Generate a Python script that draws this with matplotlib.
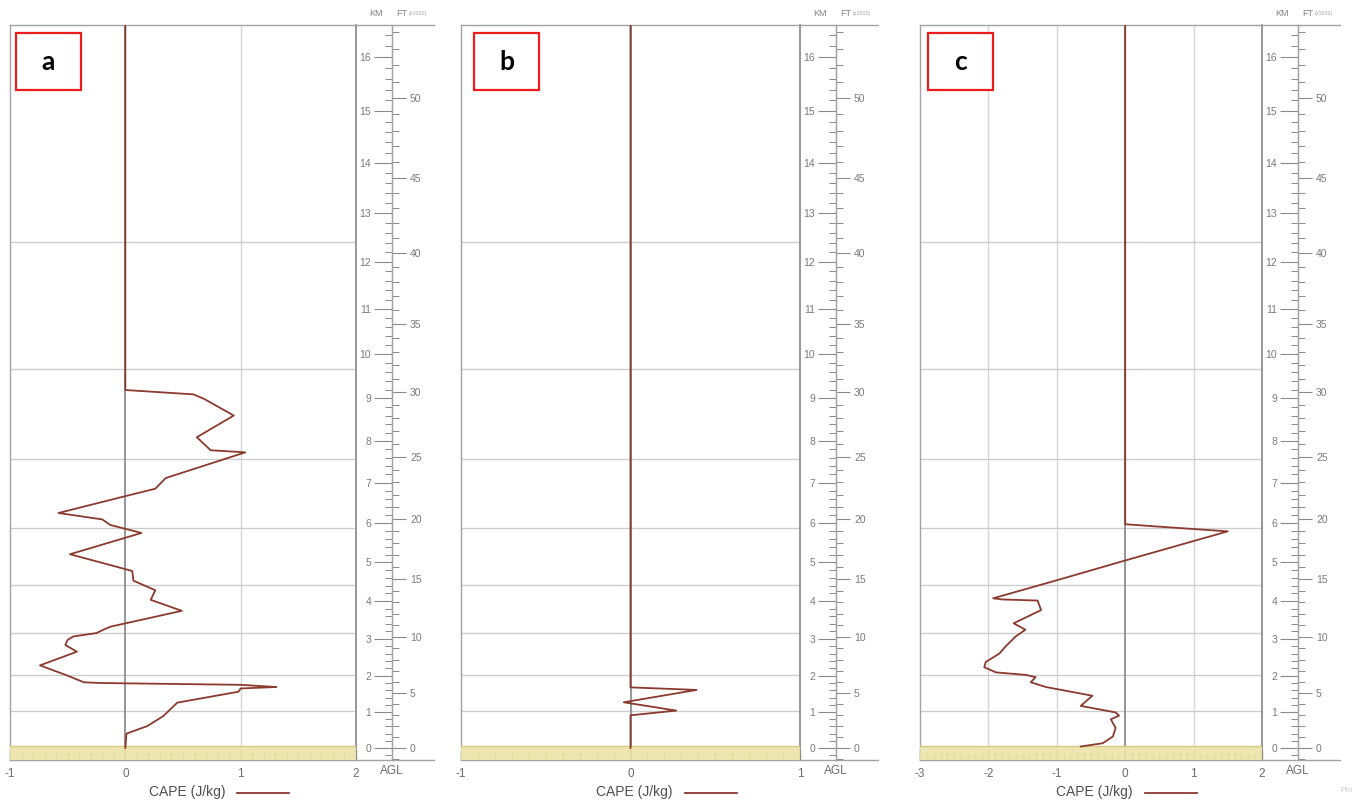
import numpy as np
import matplotlib.pyplot as plt
from matplotlib.patches import Rectangle
from matplotlib.lines import Line2D
from matplotlib.ticker import MultipleLocator, FixedLocator, NullFormatter

plt.rcParams['font.family'] = ['Liberation Sans', 'DejaVu Sans']

# CAPE (J/kg) against height (km AGL) for the three soundings
height_a = [16.58, 9.19, 9.09, 8.99, 8.60, 8.09, 7.78, 7.73, 7.11, 6.85, 6.66,
            6.25, 6.09, 5.95, 5.75, 5.21, 4.78, 4.53, 4.28, 4.03, 3.74, 3.32,
            3.24, 3.15, 3.06, 2.97, 2.83, 2.65, 2.28, 2.00, 1.82, 1.80, 1.75,
            1.69, 1.65, 1.56, 1.26, 0.89, 0.61, 0.40, 0.0]
cape_a = [0, 0, 0.59, 0.68, 0.94, 0.62, 0.74, 1.04, 0.35, 0.26, -0.01,
          -0.58, -0.20, -0.13, 0.14, -0.48, 0.06, 0.07, 0.26, 0.22, 0.49, -0.13,
          -0.19, -0.25, -0.45, -0.50, -0.52, -0.42, -0.74, -0.50, -0.36, -0.22, 1.00,
          1.31, 1.00, 0.98, 0.45, 0.33, 0.19, 0.01, 0.0]

height_b = [16.58, 1.68, 1.61, 1.27, 1.04, 0.91, 0.0]
cape_b = [0, 0, 0.39, -0.04, 0.27, 0.0, 0.0]

height_c = [16.58, 5.97, 5.92, 5.79, 5.59, 5.03, 4.53, 4.07, 4.04, 4.01, 3.76,
            3.41, 3.24, 3.06, 2.79, 2.60, 2.37, 2.23, 2.09, 2.02, 1.96, 1.82,
            1.69, 1.45, 1.17, 0.99, 0.90, 0.80, 0.56, 0.32, 0.13, 0.04]
cape_c = [0, 0, 0.40, 1.50, 1.09, -0.04, -1.02, -1.93, -1.80, -1.28, -1.23,
          -1.63, -1.46, -1.60, -1.75, -1.84, -2.04, -2.06, -1.89, -1.45, -1.31, -1.38,
          -1.16, -0.48, -0.65, -0.14, -0.09, -0.21, -0.14, -0.18, -0.33, -0.65]

# heights of the 900 ... 200 hPa levels (horizontal grid)
level_heights = [1.04, 2.03, 3.15, 4.42, 5.88, 7.57, 9.66, 12.41]

panel_labels = ['a', 'b', 'c']
panel_xlims = [(-1, 2), (-1, 1), (-3, 2)]
km_ticks = list(range(0, 17))
ft_ticks = list(range(0, 55, 5))

W, H = 1359, 807
Z_LO, Z_HI = -0.34, 16.58
KM_PER_KFT = 0.3048

# height axis is stretched like a log-pressure axis
B, D = 0.005916, 0.0004567
_zg = np.linspace(-5, 40, 4501)


def km_fwd(z):
    z = np.asarray(z, dtype=float)
    return z + B * z ** 2 + D * z ** 3


_pg = km_fwd(_zg)


def km_inv(p):
    return np.interp(np.asarray(p, dtype=float), _pg, _zg)


def ft_fwd(f):
    return km_fwd(np.asarray(f, dtype=float) * KM_PER_KFT)


def ft_inv(p):
    return km_inv(p) / KM_PER_KFT


def fx(px):
    return px / W


def fy(py):
    return 1 - py / H


fig = plt.figure(figsize=(W / 100, H / 100), dpi=100)

TOP, BOT = 25, 760
frames = [(10, 356, 16), (461, 800, 474), (920, 1262, 928)]
series = [(height_a, cape_a), (height_b, cape_b), (height_c, cape_c)]
line_col = '#8a3a2e'
grey = '#a3a3a3'

for (L, R, box_x), (hz, cape), xlim, lab in zip(frames, series, panel_xlims, panel_labels):
    ax = fig.add_axes([fx(L), fy(BOT), fx(R - L), (BOT - TOP) / H])
    ax.set_yscale('function', functions=(km_fwd, km_inv))
    ax.set_ylim(Z_LO, Z_HI)
    ax.set_xlim(*xlim)
    ax.set_yticks([])
    ax.yaxis.set_minor_locator(FixedLocator([]))

    # grid
    for x in range(xlim[0] + 1, xlim[1]):
        if x != 0:
            ax.axvline(x, color='#d6d6d6', lw=1.0, zorder=1)
    for lv in level_heights:
        ax.axhline(lv, color='#cdcdcd', lw=1.0, zorder=1)
    ax.axvline(0, color='#8e8e8e', lw=1.3, zorder=2)

    # ground band
    ax.axhspan(Z_LO, 0.05, color='#ebe4a8', alpha=0.9, lw=0, zorder=3)
    ax.axhline(0.05, color='#d6cb7e', lw=1.0, zorder=3)

    ax.plot(cape, hz, color=line_col, lw=1.3, zorder=4)

    ax.xaxis.set_major_locator(MultipleLocator(1))
    ax.xaxis.set_minor_locator(MultipleLocator(0.1))
    ax.xaxis.set_major_formatter(lambda v, p: f'{v:g}')
    ax.tick_params(axis='x', which='both', direction='in', color='#a3974a',
                   labelsize=8.5, labelcolor='#6b6b6b', pad=6)
    ax.tick_params(axis='x', which='major', length=7, width=1.0)
    ax.tick_params(axis='x', which='minor', length=5, width=1.0)
    for s in ax.spines.values():
        s.set_color(grey)
        s.set_linewidth(1.0)
    ax.spines['right'].set_color('#8f8f8f')
    ax.spines['right'].set_linewidth(1.3)

    # height scale beside the panel
    sw = 78
    frac = 36 / sw
    sc = fig.add_axes([fx(R), fy(BOT), fx(sw), (BOT - TOP) / H])
    sc.set_facecolor('none')
    sc.set_yscale('function', functions=(km_fwd, km_inv))
    sc.set_ylim(Z_LO, Z_HI)
    sc.set_xlim(0, 1)
    sc.set_xticks([])
    sc.spines['right'].set_visible(False)
    sc.spines['left'].set_position(('axes', frac))
    for s in ('left', 'top', 'bottom'):
        sc.spines[s].set_color(grey)
        sc.spines[s].set_linewidth(1.0)
    sc.yaxis.set_major_locator(FixedLocator(km_ticks))
    sc.yaxis.set_minor_locator(MultipleLocator(0.2))
    sc.yaxis.set_minor_formatter(NullFormatter())
    sc.tick_params(axis='y', which='major', direction='out', length=13, width=0.8,
                   color='#8a8a8a', labelsize=7.5, labelcolor='#7a7a7a', pad=2)
    sc.tick_params(axis='y', which='minor', direction='out', length=5, width=0.7,
                   color='#8a8a8a')

    ft = sc.twinx()
    ft.set_yscale('function', functions=(ft_fwd, ft_inv))
    ft.set_ylim(Z_LO / KM_PER_KFT, Z_HI / KM_PER_KFT)
    for s in ('left', 'top', 'bottom'):
        ft.spines[s].set_visible(False)
    ft.spines['right'].set_position(('axes', frac))
    ft.spines['right'].set_color(grey)
    ft.yaxis.set_major_locator(FixedLocator(ft_ticks))
    ft.yaxis.set_minor_locator(MultipleLocator(1))
    ft.yaxis.set_minor_formatter(NullFormatter())
    ft.tick_params(axis='y', which='major', direction='out', length=10, width=0.8,
                   color='#8a8a8a', labelsize=7.5, labelcolor='#7a7a7a', pad=3)
    ft.tick_params(axis='y', which='minor', direction='out', length=5, width=0.7,
                   color='#8a8a8a')

    line_x = R + 36
    fig.text(fx(line_x - 16), fy(13), 'KM', fontsize=6.5, color='#808080',
             ha='center', va='center')
    fig.text(fx(line_x + 10), fy(13), 'FT', fontsize=6.5, color='#808080',
             ha='center', va='center')
    fig.text(fx(line_x + 17), fy(14), '(x1000)', fontsize=3.8, color='#a0a0a0',
             ha='left', va='center')
    fig.text(fx(line_x), fy(771), 'AGL', fontsize=8.5, color='#6b6b6b',
             ha='center', va='center')

    # legend entry under the panel
    cx = (L + R) / 2
    fig.text(fx(cx + 42), fy(792), 'CAPE (J/kg)', fontsize=10, color='#505050',
             ha='right', va='center')
    fig.add_artist(Line2D([fx(cx + 54), fx(cx + 106)], [fy(793), fy(793)],
                          color=line_col, lw=1.3, transform=fig.transFigure))

    # panel letter
    fig.add_artist(Rectangle((fx(box_x), fy(90)), fx(65), 57 / H,
                             transform=fig.transFigure, facecolor='white',
                             edgecolor='#ee1c1c', lw=1.6))
    fig.text(fx(box_x + 32.5), fy(62), lab, fontsize=19, fontweight='bold',
             family=['Lato', 'DejaVu Sans'], ha='center', va='center', color='black')

fig.text(fx(1340), fy(791), 'Plo', fontsize=6, color='#cfcfcf', ha='left', va='center')

fig.savefig('out.png', dpi=100)
